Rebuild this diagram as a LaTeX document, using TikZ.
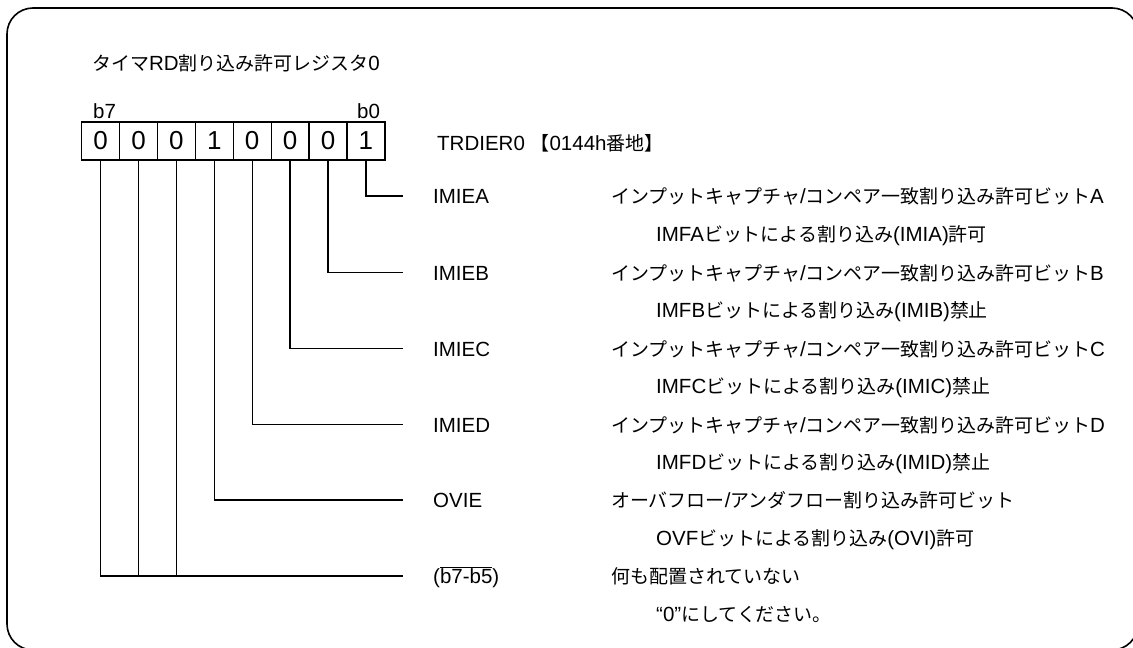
\documentclass[tikz,border=0pt]{standalone}
\usepackage{fontspec}
\setmainfont{Liberation Sans}
\newfontfamily\jp[Scale=0.925]{Noto Sans CJK JP}
\usetikzlibrary{positioning}

% description lines
\newcommand\capt[1]{{\jp インプットキャプチャ}/{\jp コンペア一致割り込み許可ビット}#1}
\newcommand\imf[2]{IMF#1{\jp ビットによる割り込み}(IMI#1){\jp #2}}
\newcommand\ovf{{\jp オーバフロー}/{\jp アンダフロー割り込み許可ビット}}
\newcommand\ovfsub{OVF{\jp ビットによる割り込み}(OVI){\jp 許可}}

\begin{document}
\begin{tikzpicture}[x=1pt,y=-1pt,
  txt/.style={anchor=base west, inner sep=0pt, font=\fontsize{20.5}{24}\selectfont},
  bitcell/.style={draw, line width=1.3pt, minimum width=37.9pt, minimum height=38pt,
    inner sep=0pt, font=\fontsize{26}{29}\selectfont},
  wire/.style={line width=1.3pt}]

  \def \cellw {37.9}
  \def \labx {433}
  \def \descx {611}
  \def \subx {656}

  \useasboundingbox (0,0) rectangle (1133,648);
  \begin{scope}
    \clip (0,0) rectangle (1133,648);
    \draw[line width=1.6pt, rounded corners=26pt] (7,8) rectangle (1138,650);
  \end{scope}

  \node[txt] (title) at (92,70) {{\jp タイマ}RD{\jp 割り込み許可レジスタ}0};

  % register cells, b7 on the left
  \foreach \v [count=\i from 0] in {0,0,0,1,0,0,0,1} {
    \pgfmathtruncatemacro\b{7-\i}
    \node[bitcell] (c\b) at ({100.6+\cellw*\i},141) {\v};
  }
  \node[txt] (b7lbl) at (93,118) {b7};
  \node[txt] (b0lbl) at (357,118) {b0};
  \node[txt] (reg) at (437,150) {TRDIER0 {\jp 【}0144h{\jp 番地】}};

  % bit fields
  \foreach \nm/\bit/\y/\ta/\tb in {
      IMIEA/0/196/{\capt{A}}/{\imf{A}{許可}},
      IMIEB/1/272.5/{\capt{B}}/{\imf{B}{禁止}},
      IMIEC/2/348.5/{\capt{C}}/{\imf{C}{禁止}},
      IMIED/3/424.5/{\capt{D}}/{\imf{D}{禁止}},
      OVIE/4/500/{\ovf}/{\ovfsub}} {
    \node[txt] (\nm) at (\labx,\y+7.5) {\nm};
    \node[txt] (\nm-d) at (\descx,\y+7.5) {\ta};
    \node[txt] (\nm-s) at (\subx,\y+45) {\tb};
    \coordinate (\nm-e) at (403,\y);
    \draw[wire] (c\bit.south) |- (\nm-e);
  }

  % reserved bits
  \node[txt] (rsv) at (\labx,583) {($\overline{\hbox{b7-b5}}$)};
  \node[txt] (rsv-d) at (\descx,583) {{\jp 何も配置されていない}};
  \node[txt] (rsv-s) at (\subx,621) {“0”{\jp にしてください。}};
  \coordinate (rsv-e) at (403,576);
  \draw[wire] (c7.south) |- (rsv-e);
  \draw[wire] (c6.south) -- (c6.south |- rsv-e);
  \draw[wire] (c5.south) -- (c5.south |- rsv-e);
\end{tikzpicture}
\end{document}
